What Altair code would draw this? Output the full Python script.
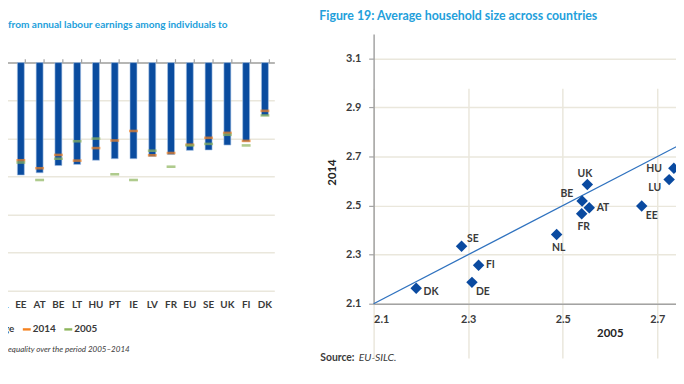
import altair as alt
import pandas as pd

# ---------------- Left panel (cut-off bar chart) ----------------
BAR_COUNTRIES = ["NL", "EE", "AT", "BE", "LT", "HU", "PT", "IE", "LV", "FR", "EU", "SE", "UK", "FI", "DK"]
AVERAGE = [-30.8, -29.6, -29.0, -27.1, -26.8, -25.7, -25.3, -25.3, -24.7, -24.2, -23.1, -23.0, -21.7, -20.8, -14.0]
VAL_2014 = [-29.4, -25.7, -27.8, -24.3, -25.8, -22.5, -20.5, -18.0, -24.4, -23.8, -21.6, -19.8, -18.5, -20.6, -12.7]
VAL_2005 = [-32.7, -26.3, -30.9, -25.3, -20.7, -20.0, -29.4, -30.9, -23.2, -27.4, -21.8, -21.4, -19.0, -21.8, -13.9]
SERIES = ["Average", "2014", "2005"]
LEFT_GRID = [-60, -50, -40, -30, -20, -10, 0]

# ---------------- Right panel (scatter) ----------------
HH_COUNTRIES = ["DK", "DE", "FI", "SE", "NL", "UK", "BE", "AT", "FR", "EE", "LU", "HU"]
HH_2005 = [2.190, 2.308, 2.322, 2.286, 2.487, 2.552, 2.541, 2.556, 2.540, 2.667, 2.725, 2.735]
HH_2014 = [2.163, 2.187, 2.257, 2.334, 2.382, 2.586, 2.519, 2.491, 2.467, 2.498, 2.606, 2.652]
IDENTITY = [2.1, 3.2]
X_TICKS = [2.1, 2.3, 2.5, 2.7]
Y_TICKS = [2.1, 2.3, 2.5, 2.7, 2.9, 3.1]

LEFT_TITLE = "from annual labour earnings among individuals to"
LEFT_NOTE = "equality over the period 2005–2014"
RIGHT_TITLE = "Figure 19: Average household size across countries"
SOURCE_BOLD = "Source:"
SOURCE_ITALIC = "EU-SILC."

# ---------------- styles ----------------
FONT = "Lato"
BAR_BLUE = "#0a4c9f"
PT_BLUE = "#0a4aa0"
LINE_BLUE = "#2f72bf"
ORANGE = "#f5821f"
GREEN = "#8db55c"
GRID = "#eae7dc"
AXIS_GRAY = "#a3a3a3"
TEXT = "#3a3a3a"
TITLE_BLUE = "#23a0db"

# label placement groups: (countries, align, dx, dy)
LABEL_GROUPS = [
    (["FI", "AT"], "left", 7.5, 0),
    (["DK"], "left", 7.5, 4),
    (["DE", "EE"], "left", 4, 10),
    (["SE"], "left", 5.5, -7),
    (["NL", "FR"], "center", 2, 13.5),
    (["UK"], "center", -2.5, -11),
    (["BE"], "right", -9, -7),
    (["LU"], "right", -8, 9),
    (["HU"], "right", -12, 1),
]

# ---------------- data tables ----------------
rows = []
for c, v in zip(BAR_COUNTRIES, AVERAGE):
    rows.append({"country": c, "series": "Average", "value": v})
for c, v in zip(BAR_COUNTRIES, VAL_2014):
    rows.append({"country": c, "series": "2014", "value": v})
for c, v in zip(BAR_COUNTRIES, VAL_2005):
    rows.append({"country": c, "series": "2005", "value": v})
long_df = pd.DataFrame(rows)

hh = pd.DataFrame({"country": HH_COUNTRIES, "y2005": HH_2005, "y2014": HH_2014})
ident = pd.DataFrame({"y2005": IDENTITY, "y2014": IDENTITY})

# ---------------- left panel ----------------
lx_scale = alt.Scale(domain=BAR_COUNTRIES, range=[-15.5, 269.5], paddingInner=0.63, paddingOuter=0.315)
ly_scale = alt.Scale(domain=[-60, 0], range=[283.7, 53], nice=False)
ly_axis = alt.Axis(orient="left", values=LEFT_GRID, grid=True, gridColor=GRID, gridWidth=1.5,
                   labels=False, ticks=False, domain=False, title=None)
color = alt.Color("series:N", scale=alt.Scale(domain=SERIES, range=[BAR_BLUE, ORANGE, GREEN]),
                  legend=alt.Legend(orient="none", legendX=-41, legendY=318, direction="horizontal",
                                    title=None, symbolType="M-1,-0.3H1V0.3H-1Z", symbolSize=64,
                                    symbolStrokeWidth=0, labelFont=FONT, labelFontSize=10,
                                    labelFontWeight="bold", labelColor=TEXT, labelOffset=1,
                                    columnPadding=7))

bars = alt.Chart(long_df).transform_filter(alt.datum.series == "Average").mark_bar(
    stroke="#a9c3e6", strokeWidth=0.6
).encode(
    x=alt.X("country:N", sort=BAR_COUNTRIES, scale=lx_scale,
            axis=alt.Axis(orient="top", offset=-53, labels=False, title=None, domainColor=AXIS_GRAY,
                          domainWidth=1.5, tickColor=AXIS_GRAY, tickSize=4, tickWidth=1.2,
                          tickBand="extent", grid=False)),
    y=alt.Y("value:Q", scale=ly_scale, axis=ly_axis),
    color=color,
)

marks = alt.Chart(long_df).transform_filter(alt.datum.series != "Average").mark_tick(
    size=9, thickness=2.6
).encode(
    x=alt.X("country:N", sort=BAR_COUNTRIES, scale=lx_scale,
            axis=alt.Axis(orient="bottom", offset=-92.3, labels=True, title=None, domain=False,
                          ticks=False, labelPadding=9, labelFont=FONT, labelFontSize=10,
                          labelFontWeight="bold", labelColor=TEXT, labelAngle=0, grid=False)),
    y=alt.Y("value:Q", scale=ly_scale, axis=ly_axis),
    color=color,
)

left = alt.layer(bars, marks).resolve_axis(x="independent")

# ---------------- right panel ----------------
rx_scale = alt.Scale(domain=[2.1, 2.9], range=[370, 752.8], nice=False, zero=False)
ry_scale = alt.Scale(domain=[2.1, 3.2], range=[297, 24], nice=False, zero=False)
rx_axis = alt.Axis(orient="bottom", offset=-79, values=X_TICKS, format=".1f", grid=True, gridColor=GRID,
                   gridWidth=1.5, domainColor=AXIS_GRAY, domainWidth=1.5, ticks=False, labelPadding=10,
                   labelFont=FONT, labelFontSize=11, labelFontWeight="bold", labelColor=TEXT,
                   title="2005", titleFont=FONT, titleFontSize=11.5, titleFontWeight="bold",
                   titleColor="#222", titleX=609, titleY=30, titleBaseline="middle", titleAnchor="start",
                   titleAlign="center")
ry_axis = alt.Axis(orient="left", offset=-370, values=Y_TICKS, format=".1f", grid=True, gridColor=GRID,
                   gridWidth=1.5, domainColor=AXIS_GRAY, domainWidth=1.5, tickColor=AXIS_GRAY,
                   tickSize=5, tickWidth=1.2, labelPadding=8, labelFont=FONT, labelFontSize=11,
                   labelFontWeight="bold", labelColor=TEXT, title="2014", titleFont=FONT,
                   titleFontSize=11.5, titleFontWeight="bold", titleColor="#222", titleX=-42,
                   titleY=163.7, titleBaseline="middle", titleAngle=270, titleAlign="center")

line = alt.Chart(ident).mark_line(color=LINE_BLUE, strokeWidth=1.3).encode(
    x=alt.X("y2005:Q", scale=rx_scale, axis=rx_axis),
    y=alt.Y("y2014:Q", scale=ry_scale, axis=ry_axis),
)
points = alt.Chart(hh).mark_point(shape="diamond", filled=True, size=135, color=PT_BLUE, opacity=1).encode(
    x=alt.X("y2005:Q", scale=rx_scale, axis=rx_axis),
    y=alt.Y("y2014:Q", scale=ry_scale, axis=ry_axis),
)
label_layers = []
for names, align, dx, dy in LABEL_GROUPS:
    label_layers.append(
        alt.Chart(hh).transform_filter(alt.FieldOneOfPredicate(field="country", oneOf=names)).mark_text(
            align=align, baseline="middle", dx=dx, dy=dy, font=FONT, fontSize=10.5,
            fontWeight="bold", color=TEXT
        ).encode(
            x=alt.X("y2005:Q", scale=rx_scale, axis=rx_axis),
            y=alt.Y("y2014:Q", scale=ry_scale, axis=ry_axis),
            text="country:N",
        )
    )
right = alt.layer(line, points, *label_layers)

# ---------------- page texts ----------------
def page_text(txt, x, y, size, weight="normal", style="normal", color=TEXT, baseline="alphabetic"):
    return alt.Chart(pd.DataFrame({"t": [txt]})).mark_text(
        align="left", baseline=baseline, font=FONT, fontSize=size, fontWeight=weight,
        fontStyle=style, color=color
    ).encode(x=alt.value(x), y=alt.value(y), text="t:N")

texts = [
    page_text(LEFT_TITLE, 0, 18, 10.2, weight="bold", color=TITLE_BLUE),
    page_text(RIGHT_TITLE, 315, 10, 12.5, weight="bold", color=TITLE_BLUE),
    page_text(LEFT_NOTE, 0, 344, 8.1, style="italic", baseline="middle"),
    page_text(SOURCE_BOLD, 316, 352, 10.5, weight="bold", baseline="middle"),
    page_text(SOURCE_ITALIC, 355, 352, 10.5, style="italic", baseline="middle"),
]

chart = alt.layer(left, right, *texts).resolve_scale(
    x="independent", y="independent", color="independent"
).resolve_axis(x="independent", y="independent").properties(
    width=676, height=376, autosize=alt.AutoSizeParams(type="none"), padding=0
).configure_view(stroke=None)

chart.save("out.html", embed_options={"renderer": "svg", "actions": False})
